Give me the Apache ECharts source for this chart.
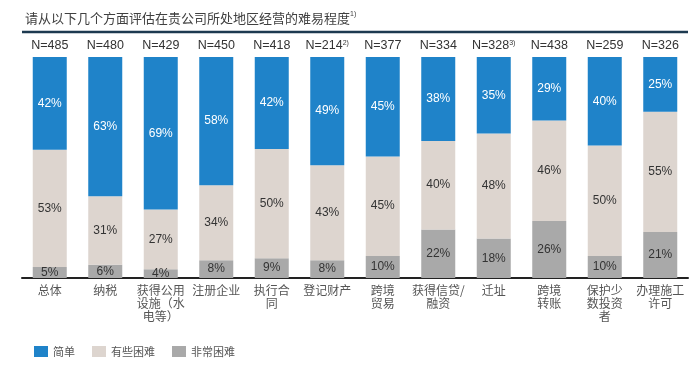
<!DOCTYPE html>
<html>
<head>
<meta charset="utf-8">
<script src="https://cdn.jsdelivr.net/npm/echarts@6/dist/echarts.min.js"></script>
<style>html,body{margin:0;padding:0;background:#fff;}#c{width:700px;height:365px;}</style>
</head>
<body>
<div id="c"></div>
<script>
const categories = ['总体','纳税','获得公用\n设施（水\n电等）','注册企业','执行合\n同','登记财产','跨境\n贸易','获得信贷/\n融资','迁址','跨境\n转账','保护少\n数投资\n者','办理施工\n许可'];
const sampleN = ['485','480','429','450','418','214','377','334','328','438','259','326'];
const sampleNote = ['','','','','','2)','','','3)','','',''];
const easy = [42,63,69,58,42,49,45,38,35,29,40,25];
const somewhat = [53,31,27,34,50,43,45,40,48,46,50,55];
const very = [5,6,4,8,9,8,10,22,18,26,10,21];
const seriesNames = ['简单','有些困难','非常困难'];

const totals = easy.map((v,i)=>v+somewhat[i]+very[i]);
function mk(arr){ return arr.map((v,i)=>({value: v/totals[i]*100, raw: v})); }

const font = '"Liberation Sans", Arial, sans-serif';
const cjk = '"Noto Sans CJK SC", "Liberation Sans", sans-serif';

const chart = echarts.init(document.getElementById('c'));
const lbl = (color)=>({show:true, position:'inside', color: color, fontSize:12, fontFamily: font, formatter: p=>p.data.raw+'%'});

chart.setOption({
  animation:false,
  title:{
    text:'{t|请从以下几个方面评估在贵公司所处地区经营的难易程度}{s|1)}',
    left:20, top:6,
    textStyle:{fontSize:13, fontWeight:'normal', rich:{
      t:{fontSize:13, fontWeight:'normal', color:'#404040', fontFamily:cjk},
      s:{fontSize:7, fontWeight:'normal', color:'#404040', fontFamily:font, padding:[0,0,7,0]}
    }}
  },
  graphic:[{type:'line', shape:{x1:22,y1:32,x2:688,y2:32}, style:{stroke:'#1d3a50', lineWidth:2.5}}],
  legend:{
    left:29, top:341, itemWidth:14, itemHeight:11, itemGap:17,
    textStyle:{fontSize:11, color:'#555', fontFamily:cjk},
    data: seriesNames.map(n=>({name:n, icon:'rect'}))
  },
  grid:{left:22, right:12, top:57, bottom:87},
  xAxis:[{
    type:'category', data:categories, position:'bottom',
    axisLine:{lineStyle:{color:'#222', width:2}}, axisTick:{show:false},
    axisLabel:{interval:0, color:'#555', fontSize:12, lineHeight:13, fontFamily:cjk, margin:6}
  },{
    type:'category', data:sampleN, position:'top',
    axisLine:{show:false}, axisTick:{show:false},
    axisLabel:{interval:0, margin:5, fontFamily:font,
      formatter:(v,i)=>'{n|N='+v+'}'+(sampleNote[i]?'{s|'+sampleNote[i]+'}':''),
      rich:{n:{fontSize:12.5, color:'#333', fontFamily:font}, s:{fontSize:7, color:'#333', padding:[0,0,5,0]}}}
  }],
  yAxis:{type:'value', min:0, max:100, show:false, splitLine:{show:false}},
  series:[
    {name:seriesNames[2], type:'bar', stack:'a', barWidth:34, data:mk(very), itemStyle:{color:'#a9a9a9'}, label:lbl('#333')},
    {name:seriesNames[1], type:'bar', stack:'a', barWidth:34, data:mk(somewhat), itemStyle:{color:'#ddd5cf'}, label:lbl('#333')},
    {name:seriesNames[0], type:'bar', stack:'a', barWidth:34, data:mk(easy), itemStyle:{color:'#1f83c9'}, label:lbl('#fff')}
  ]
});
chart.setOption({legend:{data:[{name:'简单',icon:'rect'},{name:'有些困难',icon:'rect'},{name:'非常困难',icon:'rect'}]}});
</script>
</body>
</html>
